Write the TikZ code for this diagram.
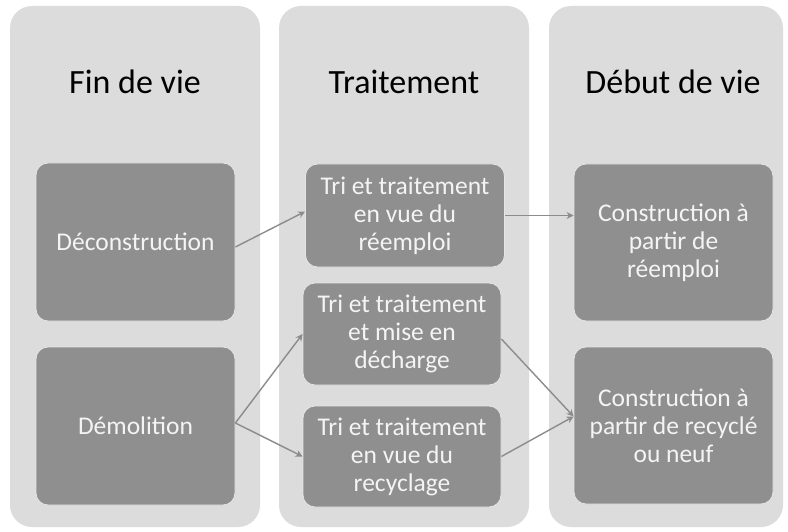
\documentclass[tikz,border=0pt]{standalone}
\usepackage{fontspec}
\setmainfont{Carlito}
\usetikzlibrary{arrows.meta}
\definecolor{colbg}{HTML}{DCDCDC}
\definecolor{boxbg}{HTML}{8F8F8F}
\definecolor{linec}{HTML}{8C8C8C}
\definecolor{boxtext}{HTML}{F4F4F4}
\begin{document}
\begin{tikzpicture}[x=1pt,y=-1pt,
  colbox/.style={fill=colbg, rounded corners=22pt},
  stepbox/.style={fill=boxbg, draw=white!90!black, line width=0.8pt, rounded corners=12pt,
    text=boxtext, font=\fontsize{25.5}{28}\selectfont, align=center, inner sep=0pt},
  header/.style={font=\fontsize{34}{38}\selectfont, text=black, anchor=base},
  conn/.style={draw=linec, line width=1.4pt, -{Stealth[length=7pt,width=7pt]}}]
\useasboundingbox (0,0) rectangle (788,532);
\fill[white] (0,0) rectangle (788,532);
% columns
\path[colbox] (10,6) rectangle (260,527);
\path[colbox] (279,6) rectangle (529,527);
\path[colbox] (549,6) rectangle (783,527);
% headers
\node[header] (h1) at (135,94) {Fin de vie};
\node[header] (h2) at (404,94) {Traitement};
\node[header] (h3) at (673,94) {Début de vie};
% boxes
\node[stepbox, minimum width=199pt, minimum height=158pt] (d1) at (135.5,242) {Déconstruction};
\node[stepbox, minimum width=199pt, minimum height=158pt] (d2) at (135.5,426) {Démolition};
\node[stepbox, minimum width=199pt, minimum height=103pt] (t1) at (405,215.5) {Tri et traitement\\en vue du\\réemploi};
\node[stepbox, minimum width=198pt, minimum height=102pt] (t2) at (402,334) {Tri et traitement\\et mise en\\décharge};
\node[stepbox, minimum width=198pt, minimum height=101pt] (t3) at (402,456.5) {Tri et traitement\\en vue du\\recyclage};
\node[stepbox, minimum width=199pt, minimum height=157pt] (b1) at (673.5,242.5) {Construction à\\partir de\\réemploi};
\node[stepbox, minimum width=199pt, minimum height=157pt] (b2) at (673.5,425.5) {Construction à\\partir de recyclé\\ou neuf};
% connectors
\draw[conn] ([yshift=-5pt]d1.east) -- ([yshift=4pt]t1.west);
\draw[conn] (t1.east) -- (t1.east -| b1.west);
\draw[conn] ([yshift=3pt]d2.east) -- (t2.west);
\draw[conn] ([yshift=3pt]d2.east) -- (t3.west);
\draw[conn] ([yshift=-5pt]t2.east) -- ([yshift=9pt]b2.west);
\draw[conn] (t3.east) -- ([yshift=9pt]b2.west);
\end{tikzpicture}
\end{document}
